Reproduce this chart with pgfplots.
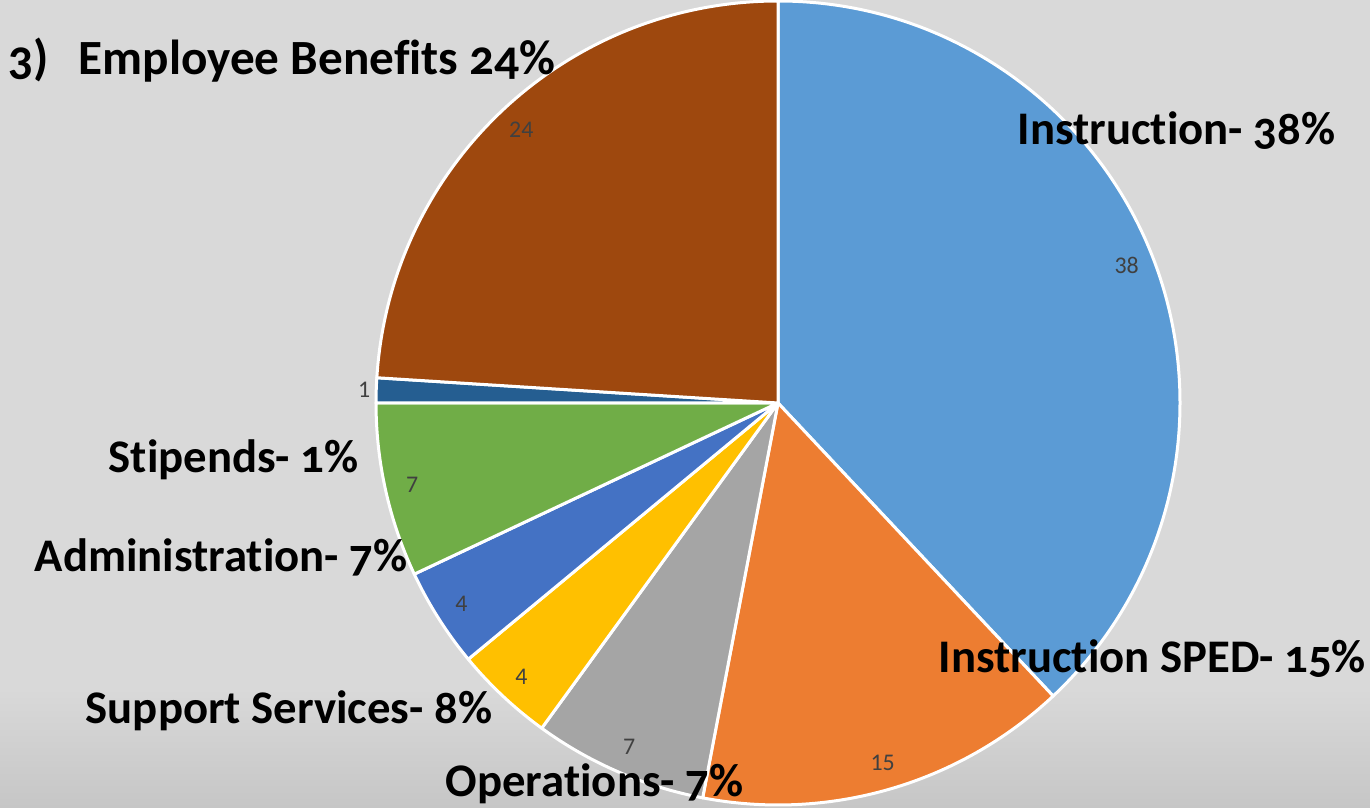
\documentclass[border=0pt]{standalone}
\usepackage{pgfplots}
\pgfplotsset{compat=1.18}
\usepackage{pgfplotstable}
\usepackage{fontspec}
\setmainfont{Carlito}[Numbers=OldStyle, Ligatures={NoCommon}]
\newfontfamily\numfont{Carlito}[Numbers=Lining]
\definecolor{bgcol}{HTML}{D9D9D9}
\definecolor{bgdark}{HTML}{C6C6C6}
\definecolor{numgray}{HTML}{404040}
\definecolor{cA}{HTML}{5B9BD5}
\definecolor{cB}{HTML}{ED7D31}
\definecolor{cC}{HTML}{A5A5A5}
\definecolor{cD}{HTML}{FFC000}
\definecolor{cE}{HTML}{4472C4}
\definecolor{cF}{HTML}{70AD47}
\definecolor{cG}{HTML}{255E91}
\definecolor{cH}{HTML}{9E480E}
\pgfplotstableread{
name value col lr
Instruction 38 cA 37.5
InstructionSPED 15 cB 37.5
Operations 7 cC 37.5
SupportServices 4 cD 37.5
Other 4 cE 37.5
Administration 7 cF 37.5
Stipends 1 cG 41.4
EmployeeBenefits 24 cH 37.5
}\piedata
\tikzset{numlab/.style={font=\numfont\fontsize{6.8}{8}\selectfont, text=numgray, inner sep=0pt},
  biglab/.style={font=\bfseries\fontsize{13.3}{15}\selectfont, anchor=base west, inner sep=0pt}}
\begin{document}
\begin{tikzpicture}
\begin{axis}[hide axis, x=0.1mm, y=0.1mm, xmin=0, xmax=1370, ymin=0, ymax=808,
  scale only axis, clip=false]
\fill[bgcol] (axis cs:0,0) rectangle (axis cs:1370,808);
\shade[top color=bgcol, bottom color=bgdark] (axis cs:0,0) rectangle (axis cs:1370,120);
\def\startang{90}
\pgfplotsforeachungrouped \i in {0,...,7}{%
  \pgfplotstablegetelem{\i}{value}\of\piedata \let\val\pgfplotsretval
  \pgfplotstablegetelem{\i}{col}\of\piedata \let\col\pgfplotsretval
  \pgfplotstablegetelem{\i}{lr}\of\piedata \let\lr\pgfplotsretval
  \pgfmathsetmacro\endang{\startang-3.6*\val}%
  \pgfmathsetmacro\midang{(\startang+\endang)/2}%
  \edef\temp{\noexpand\fill[\col, draw=white, line width=0.3mm, line join=round] (axis cs:778,405) -- ++(\startang:40.2mm) arc[start angle=\startang, end angle=\endang, radius=40.2mm] -- cycle;
  \noexpand\path (axis cs:778,405) ++(\midang:\lr mm) node[numlab] {\val};}%
  \temp
  \global\let\startang\endang
}
\node[biglab] at (axis cs:1017,663) {Instruction- 38\%};
\node[biglab] at (axis cs:938,135) {Instruction SPED- 15\%};
\node[biglab] at (axis cs:108,335) {Stipends- 1\%};
\node[biglab] at (axis cs:34,236) {Administration- 7\%};
\node[biglab] at (axis cs:85,84) {Support Services- 8\%};
\node[biglab] at (axis cs:445,11) {Operations- 7\%};
\node[anchor=base west, inner sep=0pt, font=\bfseries\fontsize{14}{17}\selectfont] at (axis cs:8,733) {3)};
\node[anchor=base west, inner sep=0pt, font=\bfseries\fontsize{14}{17}\selectfont] at (axis cs:78,733) {Employee Benefits 24\%};
\end{axis}
\pgfresetboundingbox
\useasboundingbox (current axis.south west) rectangle (current axis.north east);
\end{tikzpicture}
\end{document}
